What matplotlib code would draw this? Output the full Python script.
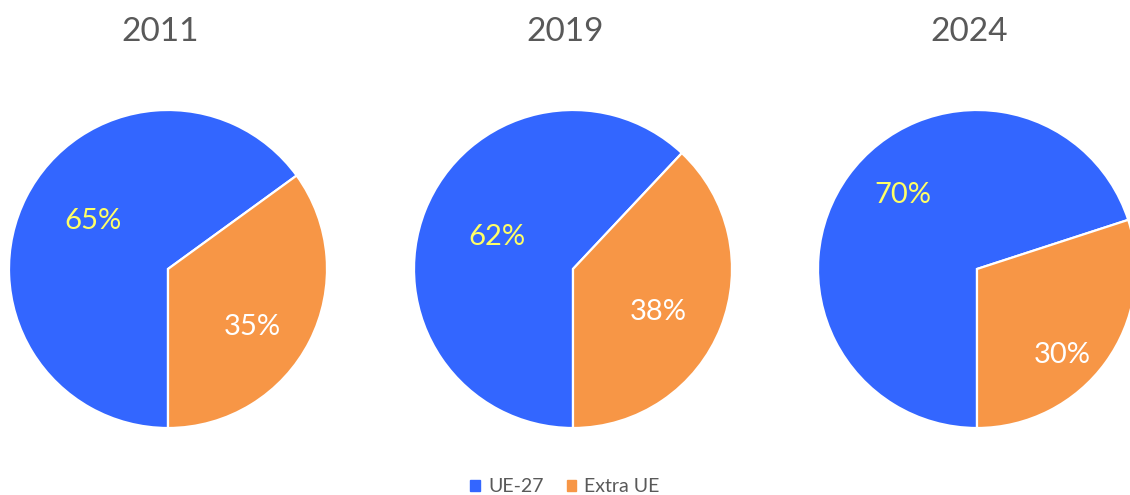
import matplotlib
matplotlib.use("Agg")
import matplotlib.pyplot as plt
import numpy as np

years = ["2011", "2019", "2024"]
categories = ["UE-27", "Extra UE"]
ue27 = [65, 62, 70]
extra_ue = [35, 38, 30]

colors = ["#3366FF", "#F79646"]
label_colors = ["#FFFF66", "#FFFFFF"]

plt.rcParams['font.family'] = ['Lato', 'DejaVu Sans']

W, H = 1130, 495
fig = plt.figure(figsize=(W / 100, H / 100), dpi=100)
ax = fig.add_axes([0, 0, 1, 1])
ax.set_xlim(0, W)
ax.set_ylim(0, H)
ax.set_aspect('equal')
ax.axis('off')

centers_x = [168, 573, 977]
center_y = H - 269
radius = 159
# label offsets from pie centre (pixels), per pie: [UE-27, Extra UE]
label_offsets = [[(-75, 48), (84, -58)],
                 [(-76, 32), (85, -43)],
                 [(-74, 74), (85, -86)]]

for i, yr in enumerate(years):
    vals = [ue27[i], extra_ue[i]]
    wedges, _ = ax.pie(vals, colors=colors, startangle=270, counterclock=False,
                       center=(centers_x[i], center_y), radius=radius,
                       wedgeprops=dict(edgecolor='white', linewidth=1.6))
    for j, w in enumerate(wedges):
        dx, dy = label_offsets[i][j]
        ax.text(centers_x[i] + dx, center_y + dy,
                f"{vals[j]}%", color=label_colors[j], fontsize=21,
                ha='center', va='center')
    ax.text(centers_x[i] - 8, H - 32, yr, color='#595959', fontsize=24,
            ha='center', va='center')

ax.set_xlim(0, W)
ax.set_ylim(0, H)

handles = [plt.Rectangle((0, 0), 1, 1, color=c) for c in colors]
fig.legend(handles, categories, loc='center', bbox_to_anchor=(0.5, 1 - 487 / H),
           ncol=2, frameon=False, prop=dict(size=14),
           handlelength=0.5, handleheight=0.5,
           handletextpad=0.4, columnspacing=1.2, labelcolor='#595959')

fig.savefig("out.png", dpi=100)
